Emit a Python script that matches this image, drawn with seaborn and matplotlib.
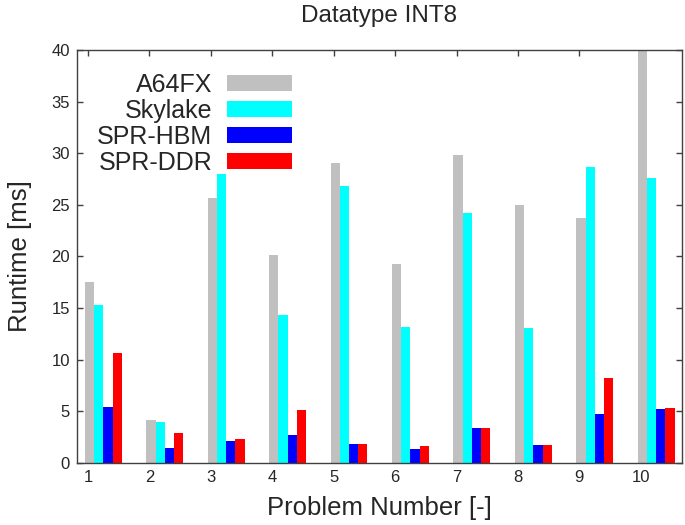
import numpy as np
import pandas as pd
import matplotlib
matplotlib.use("Agg")
import matplotlib.pyplot as plt
import seaborn as sns

sns.set_style("ticks")
plt.rcParams['font.family'] = ['Liberation Sans', 'DejaVu Sans']

# ── Data ──────────────────────────────────────────────────────
problems = ["1", "2", "3", "4", "5", "6", "7", "8", "9", "10"]
systems = ["A64FX", "Skylake", "SPR-HBM", "SPR-DDR"]
a64fx   = [17.5, 4.2, 25.7, 20.1, 29.1, 19.3, 29.8, 25.0, 23.7, 41.0]
skylake = [15.3, 4.0, 28.0, 14.3, 26.8, 13.2, 24.2, 13.1, 28.7, 27.6]
spr_hbm = [5.4, 1.5, 2.1, 2.7, 1.8, 1.4, 3.4, 1.7, 4.7, 5.2]
spr_ddr = [10.7, 2.9, 2.3, 5.1, 1.8, 1.6, 3.4, 1.7, 8.2, 5.3]
colors = ["#c0c0c0", "#00ffff", "#0000ff", "#ff0000"]

df = pd.DataFrame({
    'problem': problems * 4,
    'system': np.repeat(systems, len(problems)),
    'runtime': a64fx + skylake + spr_hbm + spr_ddr,
})

# ── Figure ────────────────────────────────────────────────────
fig = plt.figure(figsize=(6.85, 5.25), dpi=100, facecolor='white')
ax = fig.add_axes([0.1124, 0.1181, 0.8832, 0.7867])

sns.barplot(
    data=df, x='problem', y='runtime', hue='system',
    hue_order=systems, order=problems, palette=colors,
    width=0.6, saturation=1, linewidth=0, ax=ax,
)

ax.set_xticks(np.arange(len(problems)) - 0.25)
ax.set_xticklabels(problems)
ax.set_xlim(-0.429, 9.42)
ax.set_ylim(0, 40)
ax.set_yticks(range(0, 41, 5))

for s in ax.spines.values():
    s.set_visible(True)
    s.set_color('#404040')
    s.set_linewidth(1.0)
ax.tick_params(direction='in', length=4, width=1, color='#404040',
               top=True, right=True, labelsize=12, pad=5)

ax.set_title("Datatype INT8", fontsize=17.5, pad=20)
ax.set_xlabel("Problem Number [-]", fontsize=18.5, labelpad=8)
ax.set_ylabel("Runtime [ms]", fontsize=18.5, labelpad=14)

handles, labels = ax.get_legend_handles_labels()
ax.legend(
    handles, labels,
    loc='upper left', bbox_to_anchor=(0.033, 0.944),
    frameon=False, markerfirst=False,
    fontsize=18, handlelength=2.6, handleheight=0.6,
    handletextpad=0.6, labelspacing=0.08, borderpad=0, borderaxespad=0,
)

fig.savefig("out.png", dpi=100)
